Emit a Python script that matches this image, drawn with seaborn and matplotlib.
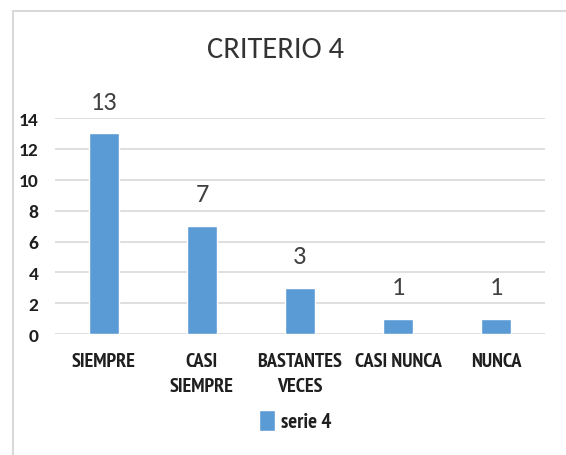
import matplotlib
matplotlib.use("Agg")
import matplotlib.pyplot as plt
import seaborn as sb
import pandas as pd
from matplotlib.patches import Rectangle

# chart data
categorias = ["SIEMPRE", "CASI\nSIEMPRE", "BASTANTES\nVECES", "CASI NUNCA", "NUNCA"]
valores = [13, 7, 3, 1, 1]
serie = "serie 4"
titulo = "CRITERIO 4"

sb.set_style("white")
plt.rcParams['font.family'] = ['Carlito', 'DejaVu Sans']
narrow = ['PT Sans Narrow', 'DejaVu Sans']

df = pd.DataFrame({"cat": categorias, "valor": valores, "serie": serie})

fig = plt.figure(figsize=(5.66, 4.56), dpi=100)
ax = fig.add_axes([0.097, 0.265, 0.866, 0.474])

sb.barplot(data=df, x="cat", y="valor", hue="serie", palette=["#5B9BD5"],
           saturation=1, width=0.31, ax=ax, legend=True)

ax.set_ylim(0, 14)
ax.set_yticks(range(0, 15, 2))
ax.yaxis.grid(True, color="#d9d9d9", linewidth=1.2)
ax.set_axisbelow(True)
for s in ax.spines.values():
    s.set_visible(False)
ax.set_xlabel("")
ax.set_ylabel("")
ax.tick_params(axis="both", length=0)
ax.tick_params(axis="y", labelsize=14, pad=12)
ax.tick_params(axis="x", labelsize=14.5, pad=13)
for t in ax.get_yticklabels():
    t.set_fontweight("bold")
    t.set_color("#1f1f1f")
for t in ax.get_xticklabels():
    t.set_fontweight("bold")
    t.set_family(narrow)
    t.set_linespacing(1.45)
    t.set_color("#1f1f1f")

# value labels
for i, v in enumerate(valores):
    ax.annotate(str(v), (i, v), xytext=(0, 15), textcoords="offset points",
                ha="center", va="bottom", fontsize=19, color="#404040")

leg = ax.legend(loc="center", bbox_to_anchor=(0.49, -0.40), frameon=False,
                handlelength=0.75, handleheight=1.2, handletextpad=0.3,
                prop={"family": narrow, "weight": "bold", "size": 15})
for t in leg.get_texts():
    t.set_color("#1f1f1f")

fig.text(0.486, 0.89, titulo, ha="center", va="center", fontsize=22, color="#333333")

# chart frame
fig.patches.append(Rectangle((13 / 566, -0.1), 1.2, 1 - 12 / 456 + 0.1,
                             transform=fig.transFigure, fill=False,
                             edgecolor="#d9d9d9", linewidth=1.5))

fig.savefig("out.png", dpi=100)
